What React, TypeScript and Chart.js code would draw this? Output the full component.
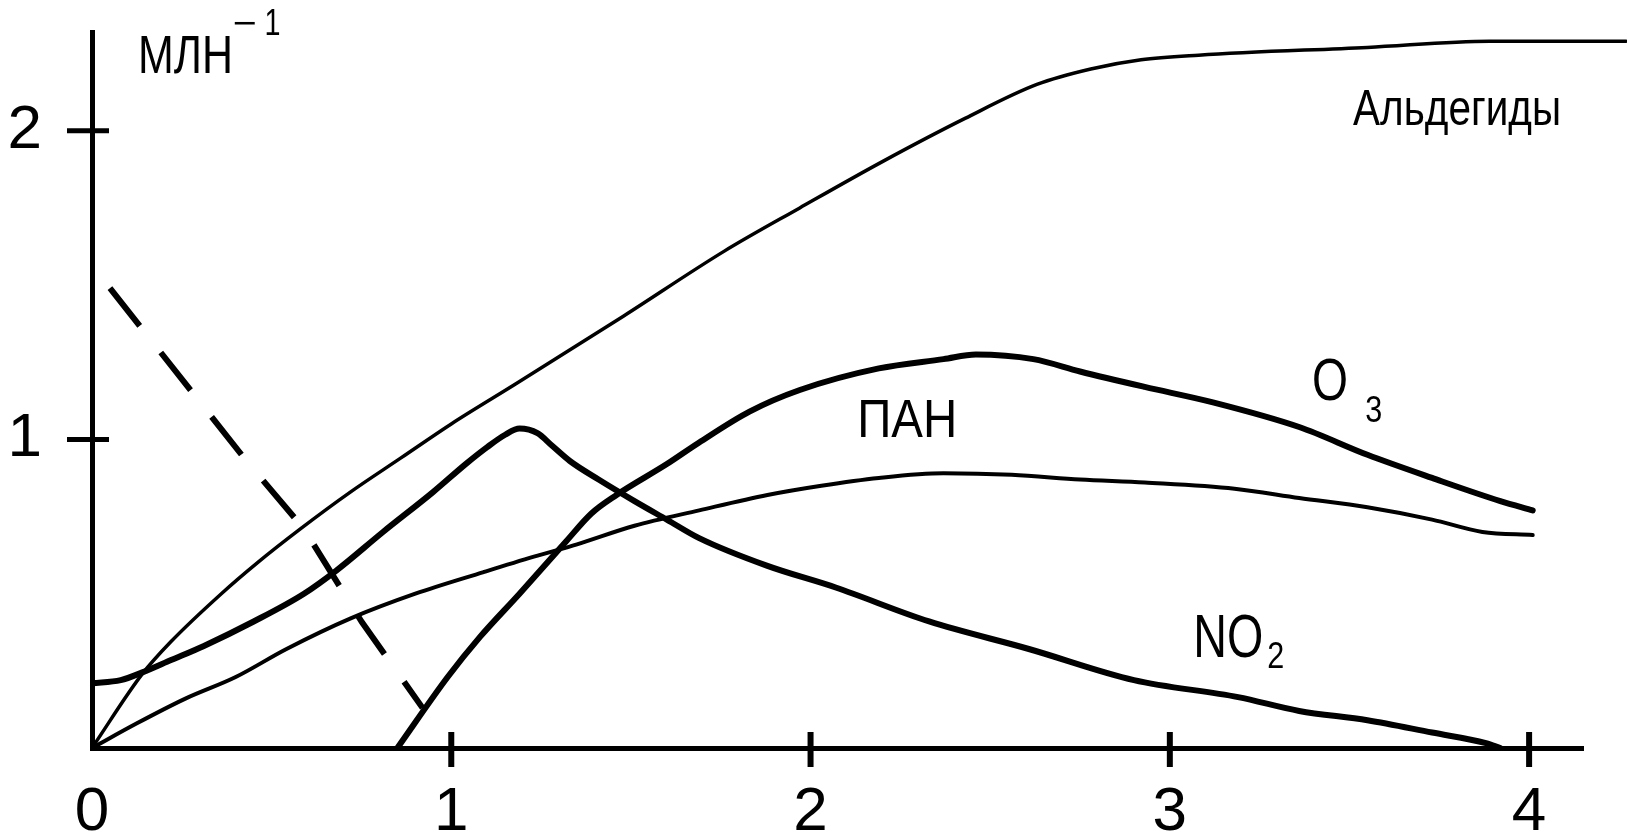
import { useEffect, useRef } from "react";
import { Chart, registerables } from "chart.js";

Chart.register(...registerables);

// ---- data ----
const X_TICKS = [0, 1, 2, 3, 4];
const Y_TICKS = [1, 2];
const X_MAX = 4.15;
const Y_MAX = 2.32;

const ALD_X = [0, 0.14, 0.22, 0.36, 0.46, 0.58, 0.72, 0.86, 1.0, 1.18, 1.48, 1.76, 1.97, 2.2, 2.43, 2.63, 2.78, 2.92, 3.08, 3.55, 3.89, 4.27];
const ALD_Y = [0, 0.24, 0.345, 0.5, 0.6, 0.71, 0.83, 0.94, 1.05, 1.18, 1.4, 1.61, 1.75, 1.9, 2.04, 2.15, 2.2, 2.23, 2.245, 2.27, 2.29, 2.29];

const NO2_X = [0, 0.08, 0.14, 0.22, 0.31, 0.45, 0.59, 0.68, 0.81, 0.95, 1.04, 1.1, 1.15, 1.19, 1.24, 1.28, 1.33, 1.41, 1.51, 1.6, 1.69, 1.88, 2.07, 2.33, 2.61, 2.9, 3.19, 3.36, 3.55, 3.73, 3.88, 3.92];
const NO2_Y = [0.21, 0.22, 0.245, 0.285, 0.33, 0.41, 0.5, 0.575, 0.7, 0.83, 0.92, 0.975, 1.015, 1.035, 1.02, 0.98, 0.93, 0.87, 0.8, 0.74, 0.68, 0.59, 0.52, 0.41, 0.32, 0.22, 0.165, 0.12, 0.09, 0.05, 0.016, 0];

const PAN_X = [0, 0.125, 0.26, 0.4, 0.54, 0.72, 0.9, 1.09, 1.23, 1.35, 1.51, 1.69, 1.88, 2.03, 2.19, 2.37, 2.56, 2.75, 2.93, 3.18, 3.36, 3.55, 3.73, 3.87, 4.01];
const PAN_Y = [0, 0.08, 0.16, 0.23, 0.32, 0.42, 0.5, 0.57, 0.62, 0.66, 0.72, 0.77, 0.82, 0.85, 0.875, 0.89, 0.885, 0.87, 0.86, 0.84, 0.81, 0.78, 0.74, 0.7, 0.69];

const O3_X = [0.85, 0.99, 1.08, 1.19, 1.32, 1.39, 1.46, 1.6, 1.69, 1.83, 1.97, 2.19, 2.37, 2.46, 2.62, 2.75, 2.93, 3.12, 3.36, 3.55, 3.73, 3.92, 4.01];
const O3_Y = [0, 0.23, 0.36, 0.5, 0.67, 0.76, 0.82, 0.92, 0.99, 1.09, 1.16, 1.23, 1.26, 1.275, 1.26, 1.22, 1.17, 1.12, 1.04, 0.95, 0.875, 0.8, 0.77];

const NO_X = [0.05, 0.43, 0.59, 0.75, 0.92];
const NO_Y = [1.49, 0.93, 0.71, 0.41, 0.13];

const FONT = "'Liberation Sans', Arial, sans-serif";

const pts = (xs: number[], ys: number[]) => xs.map((x, i) => ({ x, y: ys[i] }));

const overlay = {
  id: "overlay",
  afterDraw(chart: any) {
    const { ctx } = chart;
    const xs = chart.scales.x;
    const ys = chart.scales.y;
    const x0 = xs.getPixelForValue(0);
    const y0 = ys.getPixelForValue(0);
    ctx.save();
    ctx.strokeStyle = "#000";
    ctx.fillStyle = "#000";
    // crossing tick marks
    ctx.lineWidth = 6;
    X_TICKS.filter((v) => v > 0).forEach((v) => {
      const px = xs.getPixelForValue(v);
      ctx.beginPath();
      ctx.moveTo(px, y0 - 16);
      ctx.lineTo(px, y0 + 19);
      ctx.stroke();
    });
    ctx.lineWidth = 5;
    Y_TICKS.forEach((v) => {
      const py = ys.getPixelForValue(v);
      ctx.beginPath();
      ctx.moveTo(x0 - 25, py);
      ctx.lineTo(x0 + 17, py);
      ctx.stroke();
    });
    // text labels (condensed horizontally like the original lettering)
    const txt = (s: string, vx: number, vy: number, size: number, width: number) => {
      ctx.font = `${size}px ${FONT}`;
      ctx.textAlign = "left";
      ctx.textBaseline = "alphabetic";
      const w = ctx.measureText(s).width;
      ctx.save();
      ctx.translate(xs.getPixelForValue(vx), ys.getPixelForValue(vy));
      ctx.scale(width / w, 1);
      ctx.fillText(s, 0, 0);
      ctx.restore();
    };
    txt("МЛН", 0.128, 2.188, 53, 95);
    txt("−", 0.392, 2.31, 36, 24);
    txt("1", 0.48, 2.31, 36, 16);
    txt("Альдегиды", 3.51, 2.02, 50, 208);
    txt("ПАН", 2.13, 1.008, 54, 100);
    txt("O", 3.396, 1.128, 60, 36);
    txt("3", 3.544, 1.057, 36, 17);
    txt("NO", 3.065, 0.295, 62, 70);
    txt("2", 3.271, 0.259, 36, 17);
    ctx.restore();
  },
};

export default function App() {
  const ref = useRef<HTMLCanvasElement | null>(null);
  useEffect(() => {
    document.body.style.margin = "0";
    document.body.style.overflow = "hidden";
    if (!ref.current) return;
    const line = (label: string, xs: number[], ys: number[], w: number, extra: any = {}) => ({
      label,
      data: pts(xs, ys),
      borderColor: "#000",
      backgroundColor: "#000",
      borderWidth: w,
      pointRadius: 0,
      fill: false,
      cubicInterpolationMode: "monotone",
      borderCapStyle: "round",
      borderJoinStyle: "round",
      ...extra,
    });
    const chart = new Chart(ref.current, {
      type: "line",
      data: {
        datasets: [
          line("Альдегиды", ALD_X, ALD_Y, 3.5, { clip: false }),
          line("NO2", NO2_X, NO2_Y, 6),
          line("ПАН", PAN_X, PAN_Y, 4),
          line("O3", O3_X, O3_Y, 6),
          line("NO", NO_X, NO_Y, 6, { borderDash: [48, 34], borderCapStyle: "butt", cubicInterpolationMode: "default", tension: 0 }),
        ] as any,
      },
      options: {
        animation: false,
        responsive: false,
        devicePixelRatio: 1,
        layout: { padding: { top: 32, right: 44, left: 0, bottom: 0 } },
        plugins: { legend: { display: false }, tooltip: { enabled: false }, title: { display: false } },
        scales: {
          x: {
            type: "linear",
            min: 0,
            max: X_MAX,
            afterBuildTicks: (s: any) => {
              s.ticks = X_TICKS.map((v) => ({ value: v }));
            },
            afterFit: (s: any) => {
              s.height = 88;
              s.paddingLeft = 0;
              s.paddingRight = 0;
            },
            grid: { display: false, drawTicks: false },
            border: { display: true, color: "#000", width: 5 },
            ticks: {
              color: "#000",
              padding: 28,
              font: { family: FONT, size: 62 },
              callback: (v: any) => String(v),
            },
          },
          y: {
            type: "linear",
            min: 0,
            max: Y_MAX,
            afterBuildTicks: (s: any) => {
              s.ticks = Y_TICKS.map((v) => ({ value: v }));
            },
            afterFit: (s: any) => {
              s.width = 92;
              s.paddingTop = 0;
              s.paddingBottom = 0;
            },
            grid: { display: false, drawTicks: false },
            border: { display: true, color: "#000", width: 5 },
            ticks: {
              color: "#000",
              padding: 50,
              font: { family: FONT, size: 62 },
              callback: (v: any) => String(v),
            },
          },
        },
      },
      plugins: [overlay],
    });
    return () => chart.destroy();
  }, []);
  return (
    <div style={{ width: 1627, height: 836, background: "#fff" }}>
      <canvas ref={ref} width={1627} height={836} style={{ display: "block" }} />
    </div>
  );
}
